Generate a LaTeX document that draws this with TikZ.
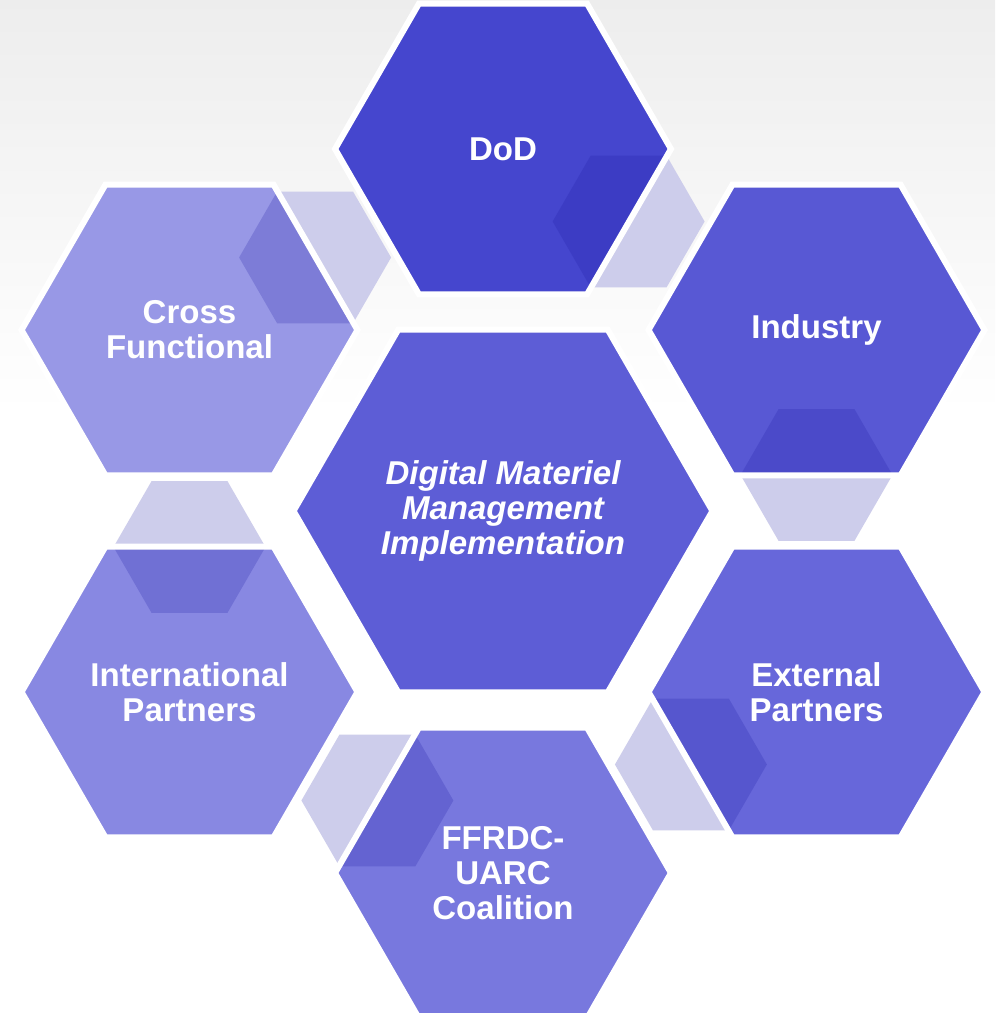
\documentclass[tikz,border=0pt]{standalone}
\usepackage{fontspec}
\setmainfont{Liberation Sans}
\usepackage{tikz}
\usetikzlibrary{shapes}
\definecolor{hexdod}{RGB}{69,70,206}
\definecolor{hexind}{RGB}{88,88,212}
\definecolor{hexext}{RGB}{103,103,218}
\definecolor{hexffr}{RGB}{120,120,222}
\definecolor{hexint}{RGB}{136,136,226}
\definecolor{hexcrs}{RGB}{152,152,230}
\definecolor{hexmid}{RGB}{93,93,214}
\definecolor{linkblue}{RGB}{30,28,164}
\tikzset{
    hexnode/.style = {regular polygon, regular polygon sides=6, minimum size=6.72cm, inner sep=0pt, outer sep=0pt, align=center, text=white, font=\bfseries\fontsize{18.8}{20}\selectfont},
    hexnodem/.style = {hexnode, minimum size=8.38cm, font=\bfseries\itshape\fontsize{18.8}{20}\selectfont},
    linknode/.style = {regular polygon, regular polygon sides=6, minimum size=3.04cm, inner sep=0pt, outer sep=0pt, fill=white},
    linkfill/.style = {fill=linkblue, fill opacity=0.22},
    edgew/.style = {line width=0.12cm, white, line join=miter}
}

\begin{document}
\begin{tikzpicture}[x=0.02cm, y=0.02cm]
% background
\fill[white] (0,0) rectangle (995,1013);
\shade[top color=gray!14, bottom color=white] (0,600) rectangle (995,1013);
\path[use as bounding box] (0,0) rectangle (995,1013);
% links (knock out the background first)
\node[linknode] at (628.6,791.5) (ldi) {};
\node[linknode] at (816.5,538) (lie) {};
\node[linknode] at (690.9,248.5) (lef) {};
\node[linknode] at (377.4,212.5) (lfi) {};
\node[linknode] at (189.5,466) (lic) {};
\node[linknode] at (315.1,755.5) (lcd) {};
%
\node[hexnodem, fill=hexmid] at (503,502) (mid) {Digital Materiel\\Management\\Implementation};
\node[hexnode, fill=hexdod] at (503,864) (dod) {DoD};
\node[hexnode, fill=hexind] at (816.5,683) (ind) {Industry};
\node[hexnode, fill=hexext] at (816.5,321) (ext) {External\\Partners};
\node[hexnode, fill=hexffr] at (503,140) (ffr) {FFRDC-\\UARC\\Coalition};
\node[hexnode, fill=hexint] at (189.5,321) (int) {International\\Partners};
\node[hexnode, fill=hexcrs] at (189.5,683) (crs) {Cross\\Functional};
%
\foreach \l in {ldi,lie,lef,lfi,lic,lcd}
  \fill[linkfill] (\l.corner 1) -- (\l.corner 2) -- (\l.corner 3) -- (\l.corner 4) -- (\l.corner 5) -- (\l.corner 6) -- cycle;
\foreach \h in {mid,dod,ind,ext,ffr,int,crs}
  \draw[edgew] (\h.corner 1) -- (\h.corner 2) -- (\h.corner 3) -- (\h.corner 4) -- (\h.corner 5) -- (\h.corner 6) -- cycle;
\end{tikzpicture}
\end{document}
